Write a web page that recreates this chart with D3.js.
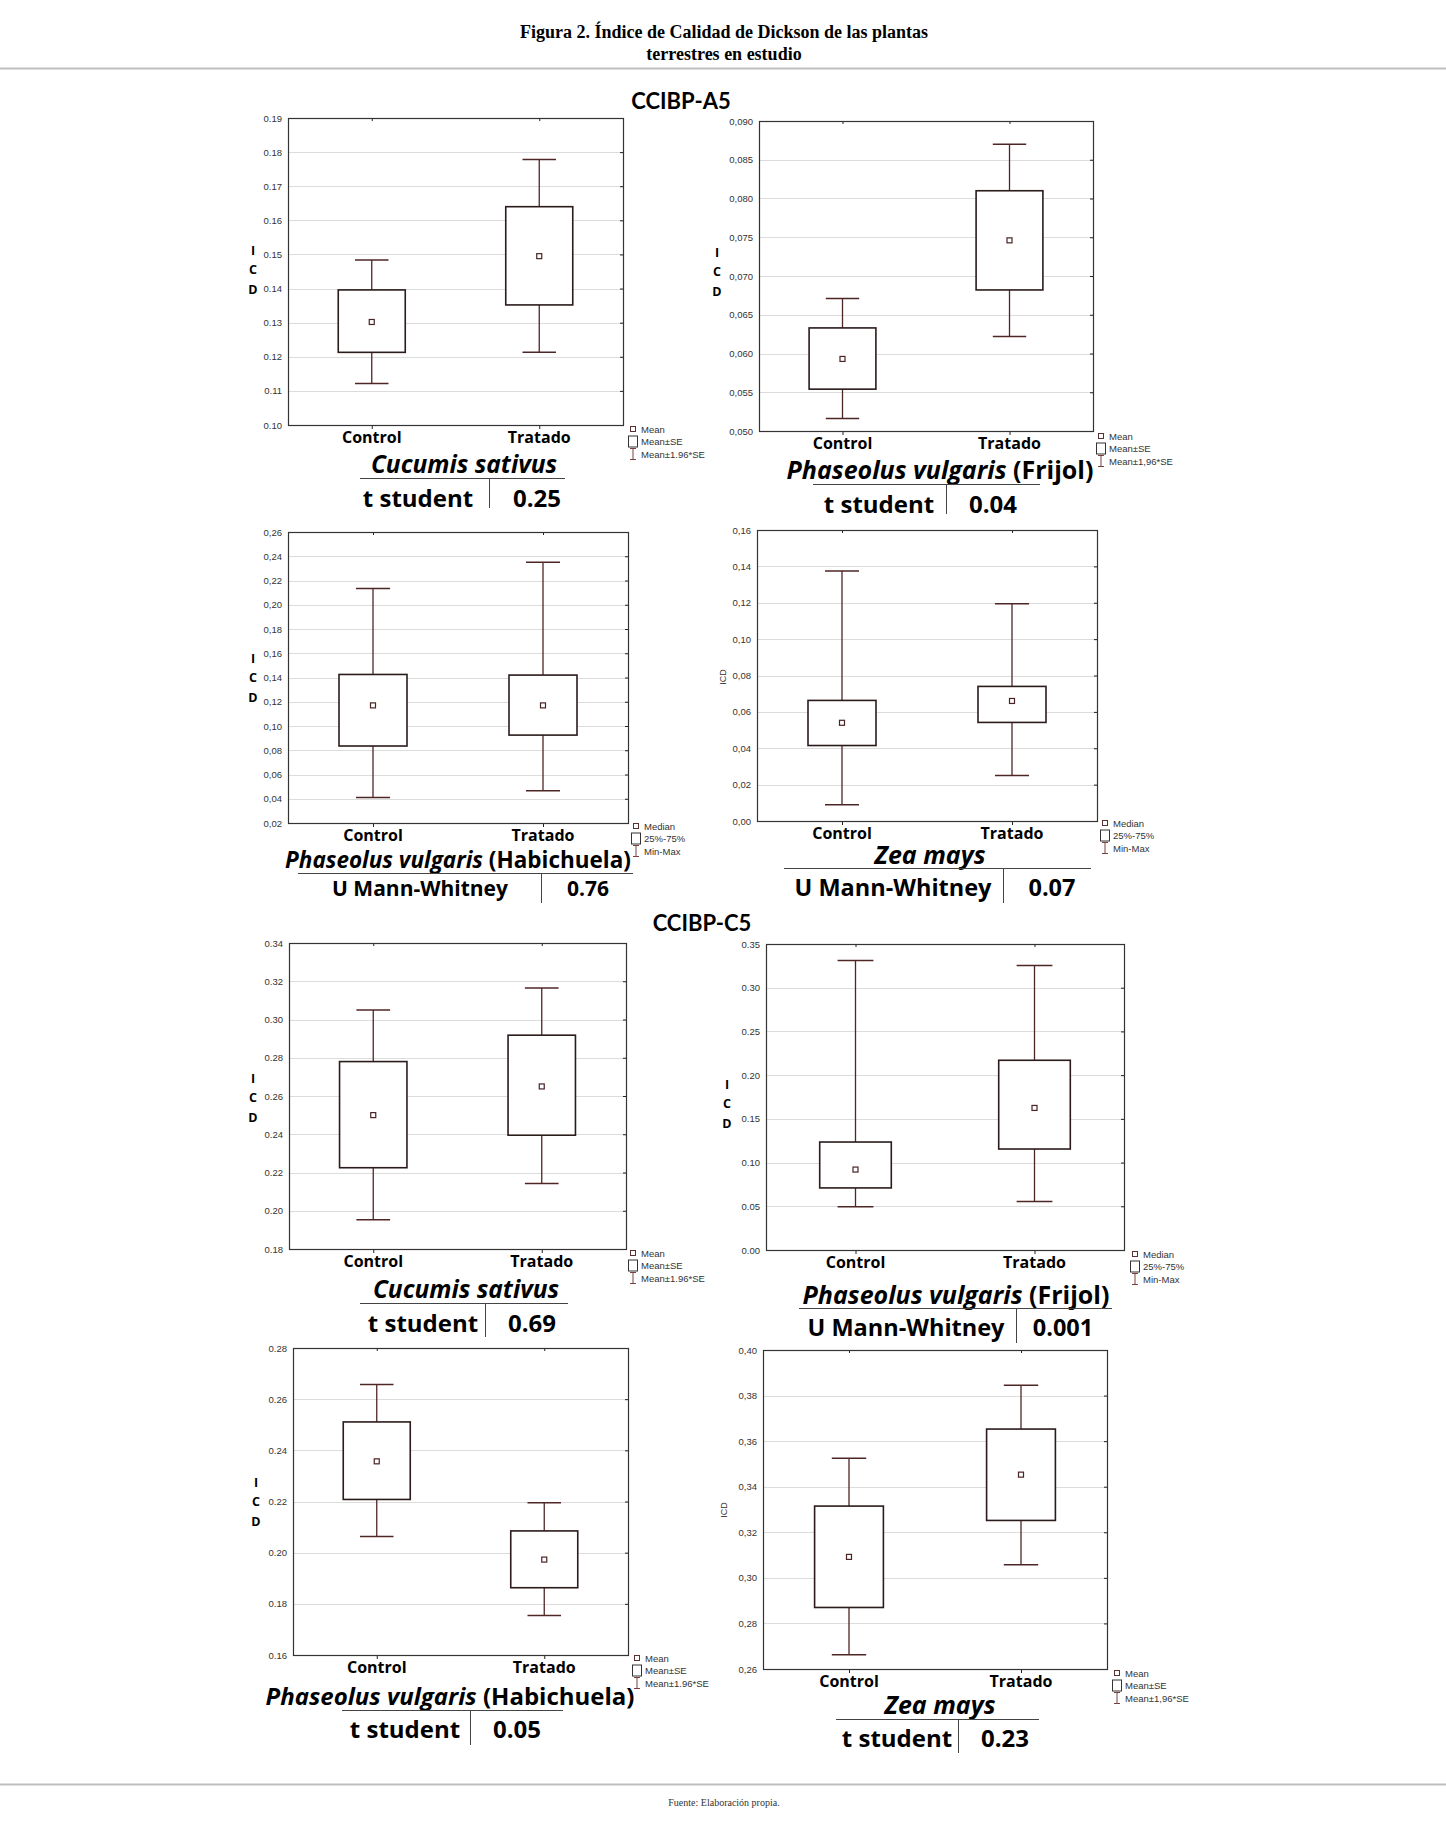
<!DOCTYPE html>
<html>
<head>
<meta charset="utf-8">
<script src="https://cdn.jsdelivr.net/npm/d3@7"></script>
<style>
  body { margin: 0; background: #fff; }
  svg { display: block; }
</style>
</head>
<body>
<svg width="1446" height="1837"></svg>
<script>
// values
const groups = ["Control", "Tratado"];
const sections = ["CCIBP-A5", "CCIBP-C5"];
const species = ["Cucumis sativus", "Phaseolus vulgaris", "Phaseolus vulgaris", "Zea mays",
                 "Cucumis sativus", "Phaseolus vulgaris", "Phaseolus vulgaris", "Zea mays"];
const commonNames = ["", "(Frijol)", "(Habichuela)", "", "", "(Frijol)", "(Habichuela)", ""];
const tests = ["t student", "t student", "U Mann-Whitney", "U Mann-Whitney",
               "t student", "U Mann-Whitney", "t student", "t student"];
const pValues = ["0.25", "0.04", "0.76", "0.07", "0.69", "0.001", "0.05", "0.23"];

// mean (or median) and box / whisker limits, [Control, Tratado]
const centerVals = [[0.1302, 0.1495], [0.0593, 0.0746], [0.117, 0.117], [0.054, 0.066],
                    [0.250, 0.265], [0.092, 0.1625], [0.2357, 0.1973], [0.3092, 0.3453]];
const boxLow = [[0.1213, 0.1352], [0.0554, 0.0682], [0.0835, 0.0925], [0.0415, 0.0542],
                [0.2225, 0.2395], [0.071, 0.1155], [0.2208, 0.1863], [0.2870, 0.3252]];
const boxHigh = [[0.1396, 0.1640], [0.0633, 0.0810], [0.1425, 0.142], [0.0663, 0.074],
                 [0.278, 0.2918], [0.1235, 0.217], [0.2511, 0.2085], [0.3315, 0.3653]];
const whiskLow = [[0.1122, 0.1213], [0.0516, 0.0622], [0.041, 0.0465], [0.009, 0.025],
                  [0.1953, 0.2142], [0.0495, 0.0555], [0.2063, 0.1754], [0.2662, 0.3057]];
const whiskHigh = [[0.1484, 0.1778], [0.0671, 0.0870], [0.2135, 0.235], [0.1375, 0.1195],
                   [0.305, 0.3165], [0.331, 0.3255], [0.2657, 0.2195], [0.3525, 0.3845]];

// y axes
const yMin = [0.10, 0.050, 0.02, 0.00, 0.18, 0.00, 0.16, 0.26];
const yMax = [0.19, 0.090, 0.26, 0.16, 0.34, 0.35, 0.28, 0.40];
const yStep = [0.01, 0.005, 0.02, 0.02, 0.02, 0.05, 0.02, 0.02];
const yDecimals = [2, 3, 2, 2, 2, 2, 2, 2];
const decimalMark = [".", ",", ",", ",", ".", ".", ".", ","];
const yTitle = "ICD";

const legendMean = ["Mean", "Mean±SE", "Mean±1.96*SE"];
const legendMeanComma = ["Mean", "Mean±SE", "Mean±1,96*SE"];
const legendMedian = ["Median", "25%-75%", "Min-Max"];
const legends = [legendMean, legendMeanComma, legendMedian, legendMedian,
                 legendMean, legendMedian, legendMean, legendMeanComma];

// page placement of each panel
const layout = [
  {l: 288, r: 623, t: 118, b: 425, yl: [253, 250], stacked: true, sp: [464, 463], spSize: 24.5, rule: [360, 565, 478], sep: [489, 508], test: [418, 497], testSize: 24, p: 537, leg: [633, 429]},
  {l: 759, r: 1093, t: 121, b: 431, yl: [717, 252], stacked: true, sp: [940, 469], spSize: 25, rule: [813, 1040, 484], sep: [946, 514], test: [879, 503], testSize: 24, p: 993, leg: [1101, 436]},
  {l: 288, r: 628, t: 532, b: 823, yl: [253, 658], stacked: true, sp: [458, 859], spSize: 22.5, rule: [298, 633, 873], sep: [541, 903], test: [420, 888], testSize: 21, p: 588, leg: [636, 826]},
  {l: 757, r: 1097, t: 530, b: 821, yl: [723, 677], stacked: false, sp: [930, 854], spSize: 25, rule: [784, 1091, 868], sep: [1003, 903], test: [893, 887], testSize: 23.5, p: 1052, leg: [1105, 823]},
  {l: 289, r: 626, t: 943, b: 1249, yl: [253, 1078], stacked: true, sp: [466, 1288], spSize: 24.5, rule: [360, 568, 1303], sep: [485, 1337], test: [423, 1322], testSize: 24, p: 532, leg: [633, 1253]},
  {l: 766, r: 1124, t: 944, b: 1250, yl: [727, 1084], stacked: true, sp: [956, 1294], spSize: 25, rule: [799, 1112, 1308], sep: [1016, 1343], test: [906, 1327], testSize: 23.5, p: 1063, leg: [1135, 1254]},
  {l: 293, r: 628, t: 1348, b: 1655, yl: [256, 1482], stacked: true, sp: [450, 1695], spSize: 24, rule: [342, 563, 1710], sep: [470, 1745], test: [405, 1728], testSize: 24, p: 517, leg: [637, 1658]},
  {l: 763, r: 1107, t: 1350, b: 1669, yl: [724, 1510], stacked: false, sp: [940, 1704], spSize: 25, rule: [836, 1039, 1719], sep: [958, 1753], test: [897, 1737], testSize: 24, p: 1005, leg: [1117, 1673]}
];

const boxStroke = "#2b1b1b";
const whiskStroke = "#4e2626";
const labelFont = "'Open Sans', Lato, sans-serif";
const titleFont = "Lato, 'Open Sans', sans-serif";
const tickFont = "'Liberation Sans', Arial, sans-serif";

const svg = d3.select("svg");

// header
svg.append("text").attr("x", 724).attr("y", 38).attr("text-anchor", "middle")
  .attr("font-family", "'Liberation Serif', serif").attr("font-weight", "bold").attr("font-size", 18)
  .text("Figura 2. Índice de Calidad de Dickson de las plantas");
svg.append("text").attr("x", 724).attr("y", 60).attr("text-anchor", "middle")
  .attr("font-family", "'Liberation Serif', serif").attr("font-weight", "bold").attr("font-size", 18)
  .text("terrestres en estudio");
svg.append("line").attr("x1", 0).attr("x2", 1446).attr("y1", 68.5).attr("y2", 68.5)
  .attr("stroke", "#bfbfbf").attr("stroke-width", 2);

// section titles
[[681, 100], [702, 922]].forEach(([x, y], i) => {
  svg.append("text").attr("x", x).attr("y", y).attr("text-anchor", "middle")
    .attr("dominant-baseline", "central")
    .attr("font-family", titleFont).attr("font-weight", "bold").attr("font-size", 22)
    .text(sections[i]);
});

// footer
svg.append("line").attr("x1", 0).attr("x2", 1446).attr("y1", 1784.5).attr("y2", 1784.5)
  .attr("stroke", "#bfbfbf").attr("stroke-width", 2);
svg.append("text").attr("x", 724).attr("y", 1806).attr("text-anchor", "middle")
  .attr("font-family", "'Liberation Serif', serif").attr("font-size", 10).attr("fill", "#333")
  .text("Fuente: Elaboración propia.");

layout.forEach((L, i) => {
  const g = svg.append("g");
  const x = d3.scalePoint().domain(groups).range([L.l, L.r]).padding(0.5);
  const y = d3.scaleLinear().domain([yMin[i], yMax[i]]).range([L.b, L.t]);
  const nTicks = Math.round((yMax[i] - yMin[i]) / yStep[i]);
  const ticks = d3.range(nTicks + 1).map(k => +(yMin[i] + k * yStep[i]).toFixed(4));
  const fmt = v => d3.format("." + yDecimals[i] + "f")(v).replace(".", decimalMark[i]);
  const w = L.r - L.l;

  // grid
  g.append("g").selectAll("line").data(ticks.slice(1, -1)).join("line")
    .attr("x1", L.l).attr("x2", L.r)
    .attr("y1", d => Math.round(y(d)) + 0.5).attr("y2", d => Math.round(y(d)) + 0.5)
    .attr("stroke", "#dcdcdc").attr("stroke-width", 1);

  // left axis labels
  const ya = g.append("g").attr("transform", `translate(${L.l},0)`)
    .call(d3.axisLeft(y).tickValues(ticks).tickFormat(fmt).tickSize(0).tickPadding(6));
  ya.select(".domain").remove();
  ya.selectAll("text").attr("font-family", tickFont).attr("font-size", 9.5).attr("fill", "#333");

  // right / top / bottom small ticks
  const yr = g.append("g").attr("transform", `translate(${L.r},0)`)
    .call(d3.axisLeft(y).tickValues(ticks.slice(1, -1)).tickFormat("").tickSize(3));
  yr.select(".domain").remove();
  const xt = g.append("g").attr("transform", `translate(0,${L.t})`)
    .call(d3.axisBottom(x).tickFormat("").tickSize(3));
  xt.select(".domain").remove();
  const xb = g.append("g").attr("transform", `translate(0,${L.b})`)
    .call(d3.axisBottom(x).tickFormat("").tickSize(4));
  xb.select(".domain").remove();
  g.selectAll(".tick line").attr("stroke", "#222");

  // frame
  g.append("rect").attr("x", L.l + 0.5).attr("y", L.t + 0.5)
    .attr("width", w).attr("height", L.b - L.t)
    .attr("fill", "none").attr("stroke", "#333").attr("stroke-width", 1.2);

  // category labels
  g.selectAll(".cat").data(groups).join("text")
    .attr("x", d => x(d)).attr("y", L.b + 12)
    .attr("text-anchor", "middle").attr("dominant-baseline", "central")
    .attr("font-family", labelFont).attr("font-weight", "bold").attr("font-size", 16)
    .text(d => d);

  const boxW = w * 0.2, capW = w * 0.1;
  const stats = groups.map((k, j) => ({
    key: k, c: centerVals[i][j], lo: boxLow[i][j], hi: boxHigh[i][j],
    wl: whiskLow[i][j], wh: whiskHigh[i][j]
  }));
  const box = g.selectAll(".box").data(stats).join("g");
  // whiskers
  box.append("line").attr("x1", d => x(d.key)).attr("x2", d => x(d.key))
    .attr("y1", d => y(d.wh)).attr("y2", d => y(d.hi))
    .attr("stroke", whiskStroke).attr("stroke-width", 1.3);
  box.append("line").attr("x1", d => x(d.key)).attr("x2", d => x(d.key))
    .attr("y1", d => y(d.lo)).attr("y2", d => y(d.wl))
    .attr("stroke", whiskStroke).attr("stroke-width", 1.3);
  box.append("line").attr("x1", d => x(d.key) - capW / 2).attr("x2", d => x(d.key) + capW / 2)
    .attr("y1", d => y(d.wh)).attr("y2", d => y(d.wh))
    .attr("stroke", whiskStroke).attr("stroke-width", 1.5);
  box.append("line").attr("x1", d => x(d.key) - capW / 2).attr("x2", d => x(d.key) + capW / 2)
    .attr("y1", d => y(d.wl)).attr("y2", d => y(d.wl))
    .attr("stroke", whiskStroke).attr("stroke-width", 1.5);
  box.append("rect").attr("x", d => x(d.key) - boxW / 2).attr("y", d => y(d.hi))
    .attr("width", boxW).attr("height", d => y(d.lo) - y(d.hi))
    .attr("fill", "#fff").attr("stroke", boxStroke).attr("stroke-width", 1.6);
  box.append("rect").attr("x", d => x(d.key) - 2.5).attr("y", d => y(d.c) - 2.5)
    .attr("width", 5).attr("height", 5)
    .attr("fill", "#fff").attr("stroke", "#4a2424").attr("stroke-width", 1.2);

  // y title
  if (L.stacked) {
    yTitle.split("").forEach((ch, k) => {
      g.append("text").attr("x", L.yl[0]).attr("y", L.yl[1] + k * 19.5)
        .attr("text-anchor", "middle").attr("dominant-baseline", "central")
        .attr("font-family", labelFont).attr("font-weight", "bold").attr("font-size", 12.5)
        .text(ch);
    });
  } else {
    g.append("text").attr("transform", `translate(${L.yl[0]},${L.yl[1]}) rotate(-90)`)
      .attr("text-anchor", "middle").attr("dominant-baseline", "central")
      .attr("font-family", tickFont).attr("font-size", 9).attr("fill", "#333")
      .text(yTitle);
  }

  // legend
  const [lx, ly] = L.leg;
  const sp = 12.5;
  g.append("rect").attr("x", lx - 2.5).attr("y", ly - 2.5).attr("width", 5).attr("height", 5)
    .attr("fill", "#fff").attr("stroke", "#5a3030").attr("stroke-width", 1);
  g.append("rect").attr("x", lx - 4.5).attr("y", ly + sp - 5.5).attr("width", 9).attr("height", 11)
    .attr("fill", "#fff").attr("stroke", "#333").attr("stroke-width", 1);
  g.append("path")
    .attr("d", `M${lx - 3},${ly + 2 * sp - 5.5}h6M${lx},${ly + 2 * sp - 5.5}v11M${lx - 3},${ly + 2 * sp + 5.5}h6`)
    .attr("fill", "none").attr("stroke", "#7a4040").attr("stroke-width", 1);
  g.selectAll(".legtext").data(legends[i]).join("text")
    .attr("x", lx + 8).attr("y", (d, k) => ly + k * sp)
    .attr("dominant-baseline", "central")
    .attr("font-family", tickFont).attr("font-size", 9.5).attr("fill", "#333")
    .text(d => d);

  // species name
  const st = g.append("text").attr("x", L.sp[0]).attr("y", L.sp[1])
    .attr("text-anchor", "middle").attr("dominant-baseline", "central")
    .attr("font-family", labelFont).attr("font-weight", "bold").attr("font-size", L.spSize);
  st.append("tspan").attr("font-style", "italic").text(species[i]);
  if (commonNames[i]) st.append("tspan").text(" " + commonNames[i]);

  // test table
  g.append("line").attr("x1", L.rule[0]).attr("x2", L.rule[1])
    .attr("y1", L.rule[2] + 0.5).attr("y2", L.rule[2] + 0.5)
    .attr("stroke", "#444").attr("stroke-width", 1);
  g.append("line").attr("x1", L.sep[0] + 0.5).attr("x2", L.sep[0] + 0.5)
    .attr("y1", L.rule[2]).attr("y2", L.sep[1])
    .attr("stroke", "#444").attr("stroke-width", 1);
  g.append("text").attr("x", L.test[0]).attr("y", L.test[1])
    .attr("text-anchor", "middle").attr("dominant-baseline", "central")
    .attr("font-family", labelFont).attr("font-weight", "bold").attr("font-size", L.testSize)
    .text(tests[i]);
  g.append("text").attr("x", L.p).attr("y", L.test[1])
    .attr("text-anchor", "middle").attr("dominant-baseline", "central")
    .attr("font-family", labelFont).attr("font-weight", "bold").attr("font-size", L.testSize)
    .text(pValues[i]);
});
</script>
</body>
</html>
